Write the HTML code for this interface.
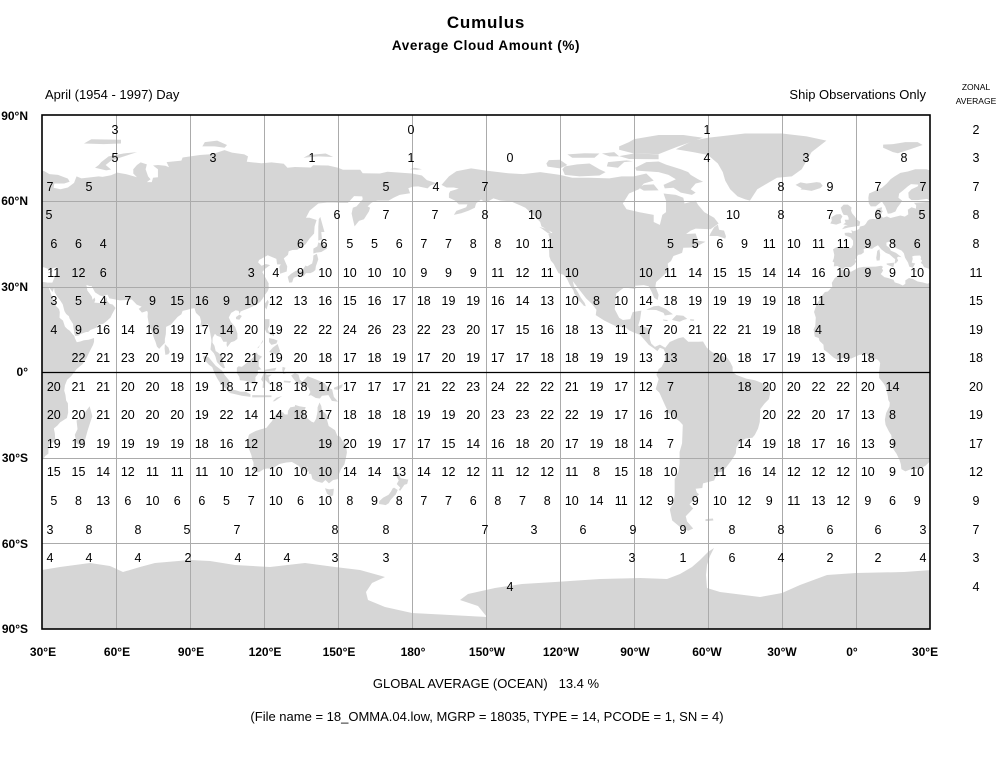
<!DOCTYPE html>
<html><head><meta charset="utf-8"><style>
html,body{margin:0;padding:0;background:#fff;}
svg{display:block;font-family:"Liberation Sans",Arial,sans-serif;}
.n{font-size:12.5px;fill:#000;text-anchor:middle;}
.b{font-weight:bold;font-size:12px;fill:#000;}
.r{font-size:13px;fill:#000;}
</style></head><body>
<svg width="998" height="760" viewBox="0 0 998 760" xmlns="http://www.w3.org/2000/svg">
<rect width="998" height="760" fill="#fff"/>
<defs>
<clipPath id="fr"><rect x="42" y="115" width="888" height="514"/></clipPath>
<g id="land" transform="matrix(2.467 0 0 -2.856 -32.01 372)" fill="#d6d6d6">
<polygon points="32.3,31.3 34.2,31.3 34.9,32.8 35.5,34 35.9,35.4 36.2,36.6 35.5,36.6 34,36.2 32.5,36.1 30.6,36.7 29.7,36.1 27.6,36.7 27,37.7 26.3,38.2 26.8,39 26.2,39.5 26.4,40.2 26,40.8 23.7,40.7 22.8,40.5 23,39.6 22.6,38.3 24,38 23,36.5 21.6,36.9 21.1,38.3 19.9,40 19.4,41.6 18.5,42.5 16,43.5 14.3,45.1 13.6,45.7 12.3,45.3 12.4,44.2 13.6,43.5 14.1,42.5 16.2,41.7 18.5,40.2 17.2,40.4 16.6,40 17.1,39 16.5,38.4 16,38 15.7,38.2 15.9,39.5 14.9,40.2 13.6,41.2 12.1,41.7 10.2,43 8.9,44.4 7.4,43.7 6.5,43.1 4.6,43.4 3.1,43.1 3.2,41.9 2.1,41.2 0.8,41 -0.3,39.3 0.1,38.7 -0.7,37.6 -2.1,36.7 -4.4,36.7 -5.4,35.9 -6.2,36.4 -7.5,37.1 -9,37 -8.8,38.3 -9.5,38.7 -9,39.8 -8.8,41 -9,41.8 -9.3,43 -8,43.7 -6,43.6 -4.3,43.4 -1.9,43.4 -1.2,44.5 -1.2,46 -2.2,47.1 -4.5,47.9 -4.6,48.7 -3,48.8 -1.6,48.6 -1.9,49.7 -1.1,49.3 0.2,49.6 1.3,50.1 1.6,50.9 2.5,51.1 3.3,51.3 4,51.9 4.7,52.9 5.4,53.4 7,53.6 8.1,53.5 8.8,54 8.5,55 8.1,55.6 8.1,56.5 8.5,57.1 10,57.6 10.6,57.7 10.3,56.6 10.9,56.4 9.9,54.8 11,54 12.5,54.5 14,53.9 18,54.8 19.8,54.4 21.2,55.2 21,56.8 22.5,57.7 24.3,57.2 24.4,58.4 23.5,59.2 28,59.5 30,59.9 28.8,60.6 25,60.2 22.5,60.2 21.4,61 21.2,62.8 22.5,64 25,65 25.3,65.6 22.3,65.8 21,65 19,63.5 17.5,62.5 17.2,61 18.7,60 18,59 16.7,57.5 16,56.2 14.3,55.6 12.9,55.4 12.6,56.2 11.8,58 11,59 10.5,59.8 8,58 6,58 5.2,59 5,61 5.3,62.5 8,63.5 10.5,64.5 12.5,66 14,67.5 15.5,68.4 18,69.7 21,70.2 24,71 28.5,71 31,70.3 33,69.3 36.5,69 40.5,67.7 41.2,66.6 39,66 35,66 34.7,64.5 37.5,64 40.5,64.6 43,66.2 44,68.5 46,67.8 53,68.5 54.5,68.3 58,68.9 60.5,69.8 64,69.3 68.5,68.2 67,69.5 67,71 68.5,72.5 70,73.4 72.5,72.7 72,71 73,68.5 74,67.5 72.5,66.5 74.5,66.5 75,68 77,68.2 77,71 75,72.3 77,72.5 80,72.2 81.5,71.7 80.5,73.5 86.5,74 87,75.1 94,76 99,76.3 104,77.7 107,76.8 112,76.2 113.5,75.5 113,73.6 119,73.1 123,73.4 128,72.9 129.5,71.5 132.5,71.8 139,71.6 139.9,72.4 146,72.3 150,71.5 152,70.8 159,70.8 160,69.6 167,69.5 170,70.1 175,69.8 180,69.5 184,68.8 186,67.2 190,66.1 187.5,65.3 186.3,64.3 182.5,65 180.5,64.9 178.5,64.4 179.2,62.6 175,62 172.5,61 170.5,60 166,60 164.7,59.8 163.5,59.2 162,58 163,57.5 162.5,56.2 160.5,53.5 158.5,52.9 156.7,51 156,53.5 155.5,55.5 156,57.5 157.5,58 160,60.5 159.8,61.5 156.5,61.6 154,59.2 151,59.2 148.5,59.3 145.5,59.3 142,59 138.5,56.5 137,54 138.5,54 141.3,53.2 140.5,51 140.3,48.5 138.5,46.8 136.8,44.7 133.5,42.8 131.5,42.7 130,42.3 129.7,41 128,39.8 129.4,37 129.2,35.2 126.5,34.4 126.2,36.8 126.8,37.7 125.3,37.7 125,39.6 121.5,40.9 118,39.2 117.6,38.4 119,37.2 120.7,37.8 122.5,37.4 120.5,36.2 119.3,35 120.8,32.7 121.9,31 121.8,30.2 122,29.5 121.5,28.3 120.5,27.2 119.6,25.9 118.5,24.6 117,23.6 115,22.8 113.5,22.2 111.7,21.6 110.5,21.2 110.1,20.3 109.7,21.4 108.5,21.6 106.7,20.7 105.7,19.1 106.6,17.5 108.3,15.8 109.2,13.5 109.2,11.6 108,10.8 106.6,10.4 105.1,8.7 104.8,9.5 104.9,10.6 103.5,10.6 102.5,12.2 100.9,12.7 100.1,13.4 99.2,12 99.1,10.3 99.9,9.2 100.4,7.3 101.2,6.9 102.2,6.2 103.4,4.9 103.4,3.4 104.2,1.4 103.5,1.3 102.3,2.2 100.9,3.5 100.3,5.4 99.7,6.5 98.3,7.9 98.5,9.5 98.7,11 98.4,12.6 97.7,15.9 97.2,16.9 95.4,15.7 94.2,16 94.5,17.7 94,19.4 92.4,20.7 91.8,22.3 90.5,22.2 89,21.8 87,21.4 86.5,20.2 85,19.3 83.9,18.2 82.2,16.6 80.3,15.8 80.2,13.3 79.8,11.5 79.8,10.2 78.3,8.9 77.5,8.1 76.6,8.9 76,10.6 75.4,11.8 74.6,14 73.4,16.3 72.8,19.3 72.9,20.8 72.6,21.4 70.5,20.8 69.2,22.1 70.4,22.9 68.4,23.6 67.2,24.7 66.4,25.4 64.5,25.2 61.5,25.1 58.5,25.6 57.3,25.8 56.5,27.1 54.7,26.5 53.5,26.8 51.5,27.9 50.1,30.1 49.2,30.1 48,30.5 48.4,28.5 49.3,27.5 50.2,26.4 50.5,25.3 51.3,26.1 51.6,25.2 51.2,24.3 52.6,24.2 54.2,24.1 55.5,25.4 56.3,26.2 56.4,24.9 57.4,23.9 58.7,23.6 59.8,22.4 58.5,20.4 57.8,19.1 56.3,17.9 55.3,17.2 54.8,16.9 52.4,16.4 52.2,15.6 49.6,14.7 48.7,14 47.9,14 45.6,13.3 45,12.8 43.5,12.6 43.2,13.2 42.7,15.7 42.6,16.8 41.2,18.7 40.9,19.5 39.8,20.3 39.1,21.3 38.4,23.7 37.5,24.9 36.9,25.6 36,26.6 35.1,28 34.9,29.5 34.3,28 32.6,29.9"/>
<polygon points="-5.6,35.8 -2,35.1 1,36.5 3,36.8 8,36.9 10.2,37.2 11,36.8 10.5,36.3 11,35.6 10.5,34.8 10,34.3 11.5,33.2 13,32.9 15.2,32.3 15.7,31.4 17.5,30.9 19,30.3 20,30.9 20,32.1 21.5,32.9 23,32.6 25,31.7 27,31.4 29,30.9 30.5,31.5 32.3,31.3 32.6,29.9 33.8,27 35,24.5 35.6,23.2 36.9,22 37.2,21 37.1,19 38.5,18 39.3,15.9 40.3,15 41.2,14.5 42.6,13 43.1,12.7 43.3,11.9 44.1,10.4 45.5,10.7 47,11.1 48.9,11.3 51.1,11.9 51.1,10.6 50.7,9.5 49.5,7.5 48,4.8 46.5,2.8 44,1 41.8,-1.5 40.2,-2.7 39.3,-4.7 39,-6.5 39.5,-8 39.8,-10 40.5,-11 40.6,-14.2 40.1,-16.1 37.4,-17.6 36.3,-18.7 34.8,-19.8 35.2,-21.5 35.4,-24.1 33,-25.4 32.6,-26.8 32.6,-28.6 31.3,-29.4 30,-31.3 28.2,-32.8 26.4,-33.6 25,-33.9 22.6,-33.9 20,-34.8 18.4,-34 18.2,-32.4 17.6,-30.7 16.4,-28.6 15.2,-27.1 14.6,-25 14.3,-22.1 13.4,-20.9 12,-18.5 11.7,-16.7 11.9,-15.8 12.2,-14.4 13.6,-12 13.7,-10.7 13.1,-9.8 12.9,-8.4 12.3,-6.1 11.9,-5 11.1,-3.9 9.4,-2.1 9.3,-0.5 9.5,1 9.8,3.1 9.4,3.8 8.5,4.5 7,4.4 5.9,4.3 4.3,6.3 2.7,6.3 1.1,5.9 -2,4.7 -4,5.2 -7.5,4.3 -9,5 -11.4,6.8 -13,7.8 -13.2,9.6 -14.8,10.9 -15.1,11.9 -16.7,12.4 -17.2,14.9 -16.5,16.1 -16.3,19.1 -17,21 -16,23.7 -14.6,25.6 -13.9,26.6 -12.6,28 -11.4,28.2 -9.6,29.9 -9.8,31.2 -8.7,32.8 -6.9,34.1 -6,35.8"/>
<polygon points="-168,65.5 -165,68.5 -162,70.3 -156,71.3 -150,70.5 -141,69.6 -135,69.3 -128,70 -120,69 -115,68 -108,68 -100,67.8 -95,68.5 -90,68.5 -85,69.5 -82,67 -86,66 -88,64 -92,62.5 -94.5,59 -93,57 -88,56 -82,55 -82,52.5 -79.5,51.5 -78.5,55 -77,56 -77,60 -78,62.5 -73,62 -70,61 -69.5,59 -65,60 -64,58.5 -61.5,56 -57.5,54 -55.7,52 -59,50 -65,50.2 -67,49.5 -71,47 -69,48.3 -65,48.5 -64,46 -61,45.6 -65.5,43.6 -70,43.5 -70.5,41.7 -74,40.6 -75,38.8 -76.3,38 -76,35.5 -78,33.8 -81,31.5 -81.3,30 -80,27 -80.4,25.2 -81.8,26 -82.8,28 -84,30 -86,30.4 -89.5,30.2 -89.4,29 -91,29.3 -94,29.6 -97.2,27.5 -97.5,24.5 -97.8,22 -96,19 -94.5,18.2 -91.5,18.5 -90.5,21 -87,21.5 -87.5,18.5 -88.3,16.2 -86,15.9 -83.5,15 -83.6,11.5 -83,10 -81.5,8.8 -79.5,9.6 -77.3,8.5 -75.5,10.5 -72,11.8 -70,12.2 -68,10.6 -64,10.6 -62,10.7 -60.5,8.5 -58,6.8 -55,5.9 -52,4.8 -51,3.5 -50,1.8 -50,0 -48.5,-1 -44.5,-2.3 -41,-2.9 -38.5,-3.7 -35.3,-5.4 -34.8,-7.5 -35.3,-9.5 -37,-11 -38.8,-13 -39,-17.5 -39.7,-19.8 -41,-22 -42,-23 -44.7,-23.3 -47,-24.5 -48.5,-26.5 -48.7,-28.5 -50.5,-31 -52.5,-33.2 -54,-34.8 -57.5,-35.5 -56.7,-36.4 -57.5,-38 -62,-39 -62.3,-40.6 -65,-40.9 -64.5,-42.2 -63.6,-42.8 -65.3,-44.4 -67.5,-46.3 -66,-47.8 -69,-50.5 -68.5,-52.3 -66,-54.8 -68,-55.6 -71,-54.5 -74.5,-52 -75.5,-48 -74,-46 -73.5,-43 -73.5,-41 -73.5,-37.5 -72,-35 -71.5,-32 -71.5,-28 -70.5,-25 -70.2,-18.5 -71.5,-17.3 -76,-14.3 -78,-10.5 -79.7,-7.2 -81.2,-6 -80.5,-4 -80,-2.5 -80.9,-1 -80,1 -78.8,1.8 -77.5,4 -77.3,6.7 -78,8 -79.5,8.5 -80.5,7.3 -82,8.3 -84,9.5 -85.7,11.2 -87.5,13 -90,13.8 -92,14.6 -94,16 -96.5,15.7 -99,16.7 -102,18 -105.5,19.9 -105.2,21.8 -107,23.8 -109.4,25.8 -112.2,28.9 -114.8,31.8 -114.3,30 -112.8,28 -111.5,26 -110,24.2 -109.5,23 -110.3,23.2 -112,24.8 -114.2,27.5 -114.5,28.5 -116,30.5 -116.8,32 -117.2,32.7 -118.5,34 -120.6,34.6 -122,36.9 -122.5,37.8 -123.7,39 -124.3,40.5 -124.4,42.8 -124,46.3 -124.7,48.3 -123,48.8 -124.5,49.5 -127.5,51 -128,52.5 -130,54.3 -131.5,55.5 -134,57.5 -136,58.3 -140,59.8 -144,60 -147,60.8 -150,59.3 -152,60.4 -154,59 -154.5,57.5 -157,56.5 -160,55.6 -163,55 -162,56.4 -158,57.7 -157.5,58.7 -161,58.7 -162.5,60 -165,61 -165,62.5 -164.5,63.3 -161,64.2 -163,64.6 -166,64.6"/>
<polygon points="-73,78 -66,81 -60,82 -45,83.5 -30,83.5 -20,82.5 -12,81 -18,77 -20,74 -22,71 -26,68.5 -32,68 -37,65.5 -40,64 -43,60 -45,60.5 -48,61.5 -51,64 -53,67 -54,70 -56,73 -60,76 -66,77"/>
<polygon points="-62,66.6 -65,66 -67,64 -65,62.8 -66.5,62 -71,62.8 -74,64.5 -77.5,64.3 -78,65.5 -73,67.5 -76,69 -80,70 -89,70.5 -89.5,71.5 -85,73.5 -80,73.7 -77,72.6 -71,71 -68,70 -67,69 -64,67.5"/>
<polygon points="-90,76.5 -80,76.3 -75,78 -72,79 -67,80.5 -62,82 -70,83 -80,83 -90,81.5 -92,80.5 -96,79 -96,77.8"/>
<polygon points="-80,74.5 -92,74.6 -96,75.6 -90,76.5 -80,76.2"/>
<polygon points="-118,69 -112,68.5 -104,68.8 -101.5,70 -104,71 -108,73 -113,72.7 -118,72 -119,71"/>
<polygon points="-125,71.9 -120,71.3 -117,72.5 -120,74.3 -124.5,74.2 -125.5,73"/>
<polygon points="-101,72 -96.5,71.5 -94,73.5 -90.5,73.8 -93,74.1 -97,73.8 -100.5,73.5"/>
<polygon points="-115,75 -106,75 -104,76.5 -110,76.6 -117,76.2"/>
<polygon points="-100,75.5 -96,75.5 -98,77 -103,76.5"/>
<polygon points="-86,63.5 -80,63.6 -82,65.7 -86,65.5 -88,64.5"/>
<polygon points="-59.4,47.6 -56,47.6 -53,46.7 -52.7,47.5 -53.5,49.5 -55.5,49.8 -56,51.6 -57.5,50.7 -59,48.5"/>
<polygon points="-128.4,50.8 -125,50 -123.4,48.4 -124.8,48.6 -127,50"/>
<polygon points="-85,21.8 -82,23 -80,23.2 -77,22 -74.2,20.2 -77.5,19.8 -78,20.7 -81,21.7 -84,21.8"/>
<polygon points="-74.5,18.4 -72.8,19.9 -70,19.7 -68.4,18.6 -70,18.2 -71.5,17.6 -74.5,18.2"/>
<polygon points="-78.3,18.4 -76.3,18.2 -76.5,17.8 -78,18"/>
<polygon points="-67.2,18.5 -65.6,18.4 -65.7,17.9 -67.2,18"/>
<polygon points="-61,-51.5 -58,-51.3 -57.8,-52 -61,-52.2"/>
<polygon points="-5.7,50 -3,50.6 1.4,51.2 1.7,52.6 0.3,53.4 -0.5,54.5 -1.6,55.6 -2,56.5 -1.8,57.6 -3.3,58.6 -5,58.6 -6.2,57.5 -5.6,56 -5,55 -3.5,54.9 -3,54 -3,53.3 -4.6,53.3 -4.2,52.3 -5.2,51.7 -3.3,51.4 -4.5,51.1"/>
<polygon points="-6,52.2 -6.2,53.4 -5.5,54.5 -6.3,55.3 -8,55.2 -10,54.2 -9.8,53 -10.4,52 -8,51.6"/>
<polygon points="-22.5,63.9 -21,63.8 -18,63.4 -14.5,64.4 -13.5,65.2 -14.5,66.3 -16,66.5 -18,66.2 -20,66 -22.5,66.4 -24.5,65.5 -22,64.3"/>
<polygon points="11,78.5 15,77 17,76.6 22,78 27,79.5 25,80.5 20,80.5 15,79.8 11,79.6"/>
<polygon points="47,80 55,79.8 62,80 62,81.3 50,81.5"/>
<polygon points="51.5,71.5 56,70.6 58,70.9 55.8,72.5 58,74 64,75.7 68.5,77 63,76.5 57,75.5 54,73.5 53,72.5"/>
<polygon points="95,79 100,79 104,78.5 105,79.5 101,81 96,80.5"/>
<polygon points="136,75 142,75.5 148,75.3 145,76.5 138,76"/>
<polygon points="179,71 181,71.5 184,71 182,70.8"/>
<polygon points="12.4,38 15.6,38.3 15.1,36.7 12.5,37.6"/>
<polygon points="8.4,39 9.6,39.1 9.8,41 9.5,43 8.6,42.4 8.4,41 8.2,40"/>
<polygon points="23.5,35.3 26.3,35.2 24,35.6"/>
<polygon points="32.3,34.7 34.6,35.7 34,35 33,34.6"/>
<polygon points="129.6,33.3 130.2,31.3 131.4,31.4 132,33 134.7,33.8 136,33.5 137,34.6 138.8,34.6 140,35.1 140.8,35.7 141,37 142,39.5 141.4,41.4 140,40.8 139.9,39.5 139.5,38 137.5,37 136.8,37.3 135.5,35.5 133,35.5 131,34.4"/>
<polygon points="140,41.5 141.2,41.8 143.2,42 145.5,43.2 145.3,44.2 142,45.4 141.6,44 140,43.2"/>
<polygon points="142,46 143.5,46.5 143.2,49 144.5,49 142.8,54.3 142.2,53.5 142,51"/>
<polygon points="120.1,23 121,21.9 121.9,24.5 121.5,25.3 120.2,23.8"/>
<polygon points="108.6,19.2 110,20.1 111,19.6 110,18.3 108.7,18.5"/>
<polygon points="120,18.5 122.2,18.5 122.2,16.2 121.5,15 122,14 124,13.8 124,12.5 123,13 121,13.8 120.6,14.5 120,16"/>
<polygon points="122,7 123.5,8.5 125.5,9.8 126.5,7.3 125.5,5.6 124,6.5"/>
<polygon points="122,11.9 124,11.5 125.5,11 125,10 123,9.5 122,10.5"/>
<polygon points="117.2,8.3 119.5,10.5 119.6,11.3 117.8,8.5"/>
<polygon points="109,1.5 109.7,2 111,1.8 113,3.2 115.5,5 116.8,6.9 117.7,6 119.2,5.4 118,4.3 117.8,2 119,0.9 117.5,0.7 117.5,-0.8 116.5,-1.8 116.5,-3.5 116,-4 114.7,-4 113,-3.2 111.8,-3 110.2,-2.9 110,-1.7 109,-0.4"/>
<polygon points="95.3,5.6 97.5,5.2 100.4,2.2 103,0.5 104,-1 106,-3.1 105.8,-5.8 104.6,-5.9 102.3,-4 101,-2.2 100.1,-0.7 99,1.7 97.7,2.5 95.4,4.7"/>
<polygon points="105.3,-6.8 106,-5.9 108.5,-6.4 110.5,-6.9 112.6,-6.9 114.5,-7.8 114.5,-8.7 111,-8.3 106.4,-7.4"/>
<polygon points="115.2,-8.1 123,-8.2 123,-8.8 115.2,-8.9"/>
<polygon points="123.5,-10.3 125,-9 127.3,-8.4 126,-9.2 124.4,-10.2"/>
<polygon points="119.4,-5.5 120.4,-5.6 120.5,-2.8 122.7,-4.7 121.8,-1.8 123.2,-0.9 121,-0.9 120.3,0.8 125,1.5 124.5,0.5 120.8,0.3 119.8,-0.6 118.8,-2.6 119.6,-3.5"/>
<polygon points="128,-3 131,-3.2 130.5,-3.8 128,-3.6"/>
<polygon points="127.5,1.8 128.7,1.5 128,0 128.9,-0.5 127.8,-0.7 127.4,0.8"/>
<polygon points="131,-1.2 132.5,-0.4 134,-0.9 134.5,-2.7 135.5,-3.4 137.7,-1.5 141,-2.6 144.5,-3.9 146,-5.5 147.6,-6.1 148.3,-8.7 150,-10.4 147.5,-10.1 146.1,-8.1 143.5,-8.3 142.6,-9.3 141,-9.1 139,-8.1 138,-8.4 138.8,-7 137.9,-5.4 135.5,-4.4 133.5,-4 132.3,-2.8 131.3,-1.6"/>
<polygon points="148.3,-5.5 152,-4.2 151.5,-5.4 150,-6.2 148.4,-6.1"/>
<polygon points="114.1,-21.8 116.7,-20.6 119,-20 121,-19.5 122.2,-18.2 123.3,-17.1 123.7,-16.2 125,-14.7 126.1,-14.1 127.7,-14.1 128.4,-14.9 129.6,-14.9 129.7,-13.6 130.6,-12.4 132.5,-12.1 132.6,-11.5 134.3,-12 135.8,-12.2 136.9,-12.3 136.5,-13.3 135.9,-14.7 137.1,-15.9 139.3,-17.4 140.2,-17.7 141.1,-16.4 141.7,-13.8 141.7,-12.4 142.5,-10.7 143.2,-11.9 143.5,-13.6 144.5,-14.2 145.4,-15 145.4,-16.3 146.2,-18.9 148.8,-20.4 149.7,-22.3 150.8,-22.6 151.8,-24.1 153.2,-25.3 153.6,-28.2 153.1,-30.4 152.6,-32.3 151.1,-34.2 150.1,-36.4 149.9,-37.5 148,-37.8 146.3,-39 144.9,-37.8 143.6,-38.8 141.6,-38.4 140.6,-38 139.6,-37.4 139.1,-35.7 138.1,-35.6 138.4,-34.4 137.7,-35.1 137,-34.3 137.9,-33 137.2,-33.6 135.9,-34.9 135.2,-34.5 134.2,-32.9 131.3,-31.5 129,-31.7 126.2,-32.2 124,-33.5 123.7,-33.9 121.3,-33.8 119.9,-34 118,-35.1 116.6,-35 115,-34.2 115.7,-33.3 115.7,-31.6 115.2,-30.6 114.9,-29.2 113.7,-26.5 113.6,-24.7 113.4,-23.8 113.8,-22.2"/>
<polygon points="144.7,-40.7 146.4,-41.1 148.3,-40.9 148,-43.2 146.9,-43.6 145.5,-42.6"/>
<polygon points="172.6,-34.5 174.3,-35.3 175.4,-37.2 178.5,-37.7 178,-39.2 176.9,-39.5 175.2,-41.6 174.6,-41.3 175.2,-40.5 173.8,-39.2 174.6,-38 173,-35.2"/>
<polygon points="172.7,-40.5 174.2,-41.3 173.4,-42.9 172.7,-43.4 171.2,-44.9 170.6,-45.9 169.3,-46.6 166.6,-46.2 166.7,-45.2 168.3,-44 170.5,-43 171.5,-41.8 172.1,-40.8"/>
<polygon points="79.8,9.8 81.3,8.5 81.8,7 81.2,6.2 80,6 79.7,8.2"/>
<polygon points="49.3,-12 50.4,-15.5 49.8,-17 48.5,-20.5 47.1,-24.9 45.4,-25.6 44,-24.9 43.3,-22 44.4,-20 44,-17 46.3,-15.8 47.9,-13.6"/>
</g>
</defs>

<g clip-path="url(#fr)">
<use href="#land"/>
<use href="#land" transform="translate(888,0)"/>
<polygon fill="#d6d6d6" points="42,570 60,567 90,563 110,566 123,572 140,567 155,563 190,560 210,561 235,565 270,567 305,563 335,567 360,570 385,577 372,583 366,592 368,600 385,607 412,613 450,615 487,617 478,606 460,600 468,594 495,588 522,584 555,582 600,579 640,578 667,579 680,574 692,567 700,560 708,552 714,548 710,556 707,565 706,575 707,588 720,592 760,597 782,593 800,585 827,575 856,573 904,572 932,570 932,631 40,631"/>
</g>

<g stroke="#ababab" stroke-width="1">
<line x1="116.5" y1="115" x2="116.5" y2="629"/>
<line x1="190.5" y1="115" x2="190.5" y2="629"/>
<line x1="264.5" y1="115" x2="264.5" y2="629"/>
<line x1="338.5" y1="115" x2="338.5" y2="629"/>
<line x1="412.5" y1="115" x2="412.5" y2="629"/>
<line x1="486.5" y1="115" x2="486.5" y2="629"/>
<line x1="560.5" y1="115" x2="560.5" y2="629"/>
<line x1="634.5" y1="115" x2="634.5" y2="629"/>
<line x1="708.5" y1="115" x2="708.5" y2="629"/>
<line x1="782.5" y1="115" x2="782.5" y2="629"/>
<line x1="856.5" y1="115" x2="856.5" y2="629"/>
<line x1="42" y1="201.5" x2="930" y2="201.5"/>
<line x1="42" y1="287.5" x2="930" y2="287.5"/>
<line x1="42" y1="458.5" x2="930" y2="458.5"/>
<line x1="42" y1="543.5" x2="930" y2="543.5"/>
</g>
<line x1="42" y1="372.5" x2="930" y2="372.5" stroke="#000" stroke-width="1.3"/>
<rect x="42" y="115" width="888" height="514" fill="none" stroke="#000" stroke-width="1.6"/>

<text x="486" y="28" text-anchor="middle" style="font-weight:bold;font-size:17px;letter-spacing:0.8px">Cumulus</text>
<text x="486" y="50" text-anchor="middle" style="font-weight:bold;font-size:13.5px;letter-spacing:0.6px">Average Cloud Amount (%)</text>
<text x="45" y="99" class="r">April (1954 - 1997) Day</text>
<text x="926" y="99" class="r" text-anchor="end">Ship Observations Only</text>
<text x="976" y="90" text-anchor="middle" style="font-size:8.5px">ZONAL</text>
<text x="976" y="104" text-anchor="middle" style="font-size:8.5px">AVERAGE</text>

<text x="28" y="120" class="b" text-anchor="end">90°N</text>
<text x="28" y="205" class="b" text-anchor="end">60°N</text>
<text x="28" y="291" class="b" text-anchor="end">30°N</text>
<text x="28" y="376" class="b" text-anchor="end">0°</text>
<text x="28" y="462" class="b" text-anchor="end">30°S</text>
<text x="28" y="548" class="b" text-anchor="end">60°S</text>
<text x="28" y="633" class="b" text-anchor="end">90°S</text>
<text y="656" class="b" text-anchor="middle"><tspan x="43">30°E</tspan><tspan x="117">60°E</tspan><tspan x="191">90°E</tspan><tspan x="265">120°E</tspan><tspan x="339">150°E</tspan><tspan x="413">180°</tspan><tspan x="487">150°W</tspan><tspan x="561">120°W</tspan><tspan x="635">90°W</tspan><tspan x="707">60°W</tspan><tspan x="782">30°W</tspan><tspan x="852">0°</tspan><tspan x="925">30°E</tspan></text>

<text x="486" y="688" class="r" text-anchor="middle" style="white-space:pre">GLOBAL AVERAGE (OCEAN)   13.4 %</text>
<text x="487" y="721" class="r" text-anchor="middle">(File name = 18_OMMA.04.low, MGRP = 18035, TYPE = 14, PCODE = 1, SN = 4)</text>

<text class="n" y="134"><tspan x="115">3</tspan><tspan x="411">0</tspan><tspan x="707">1</tspan><tspan x="976">2</tspan></text>
<text class="n" y="162"><tspan x="115">5</tspan><tspan x="213">3</tspan><tspan x="312">1</tspan><tspan x="411">1</tspan><tspan x="510">0</tspan><tspan x="707">4</tspan><tspan x="806">3</tspan><tspan x="904">8</tspan><tspan x="976">3</tspan></text>
<text class="n" y="191"><tspan x="50">7</tspan><tspan x="89">5</tspan><tspan x="386">5</tspan><tspan x="436">4</tspan><tspan x="485">7</tspan><tspan x="781">8</tspan><tspan x="830">9</tspan><tspan x="878">7</tspan><tspan x="923">7</tspan><tspan x="976">7</tspan></text>
<text class="n" y="219"><tspan x="49">5</tspan><tspan x="337">6</tspan><tspan x="386">7</tspan><tspan x="435">7</tspan><tspan x="485">8</tspan><tspan x="535">10</tspan><tspan x="733">10</tspan><tspan x="781">8</tspan><tspan x="830">7</tspan><tspan x="878">6</tspan><tspan x="922">5</tspan><tspan x="976">8</tspan></text>
<text class="n" y="248"><tspan x="53.8">6</tspan><tspan x="78.5">6</tspan><tspan x="103.2">4</tspan><tspan x="300.5">6</tspan><tspan x="324">6</tspan><tspan x="349.8">5</tspan><tspan x="374.5">5</tspan><tspan x="399.2">6</tspan><tspan x="423.8">7</tspan><tspan x="448.5">7</tspan><tspan x="473.2">8</tspan><tspan x="497.8">8</tspan><tspan x="522.5">10</tspan><tspan x="547.2">11</tspan><tspan x="670.5">5</tspan><tspan x="695.2">5</tspan><tspan x="719.8">6</tspan><tspan x="744.5">9</tspan><tspan x="769.2">11</tspan><tspan x="793.8">10</tspan><tspan x="818.5">11</tspan><tspan x="843.2">11</tspan><tspan x="867.8">9</tspan><tspan x="892.5">8</tspan><tspan x="917.2">6</tspan><tspan x="976">8</tspan></text>
<text class="n" y="277"><tspan x="53.8">11</tspan><tspan x="78.5">12</tspan><tspan x="103.2">6</tspan><tspan x="251.2">3</tspan><tspan x="275.8">4</tspan><tspan x="300.5">9</tspan><tspan x="325.2">10</tspan><tspan x="349.8">10</tspan><tspan x="374.5">10</tspan><tspan x="399.2">10</tspan><tspan x="423.8">9</tspan><tspan x="448.5">9</tspan><tspan x="473.2">9</tspan><tspan x="497.8">11</tspan><tspan x="522.5">12</tspan><tspan x="547.2">11</tspan><tspan x="571.8">10</tspan><tspan x="645.8">10</tspan><tspan x="670.5">11</tspan><tspan x="695.2">14</tspan><tspan x="719.8">15</tspan><tspan x="744.5">15</tspan><tspan x="769.2">14</tspan><tspan x="793.8">14</tspan><tspan x="818.5">16</tspan><tspan x="843.2">10</tspan><tspan x="867.8">9</tspan><tspan x="892.5">9</tspan><tspan x="917.2">10</tspan><tspan x="976">11</tspan></text>
<text class="n" y="305"><tspan x="53.8">3</tspan><tspan x="78.5">5</tspan><tspan x="103.2">4</tspan><tspan x="127.8">7</tspan><tspan x="152.5">9</tspan><tspan x="177.2">15</tspan><tspan x="201.8">16</tspan><tspan x="226.5">9</tspan><tspan x="251.2">10</tspan><tspan x="275.8">12</tspan><tspan x="300.5">13</tspan><tspan x="325.2">16</tspan><tspan x="349.8">15</tspan><tspan x="374.5">16</tspan><tspan x="399.2">17</tspan><tspan x="423.8">18</tspan><tspan x="448.5">19</tspan><tspan x="473.2">19</tspan><tspan x="497.8">16</tspan><tspan x="522.5">14</tspan><tspan x="547.2">13</tspan><tspan x="571.8">10</tspan><tspan x="596.5">8</tspan><tspan x="621.2">10</tspan><tspan x="645.8">14</tspan><tspan x="670.5">18</tspan><tspan x="695.2">19</tspan><tspan x="719.8">19</tspan><tspan x="744.5">19</tspan><tspan x="769.2">19</tspan><tspan x="793.8">18</tspan><tspan x="818.5">11</tspan><tspan x="976">15</tspan></text>
<text class="n" y="334"><tspan x="53.8">4</tspan><tspan x="78.5">9</tspan><tspan x="103.2">16</tspan><tspan x="127.8">14</tspan><tspan x="152.5">16</tspan><tspan x="177.2">19</tspan><tspan x="201.8">17</tspan><tspan x="226.5">14</tspan><tspan x="251.2">20</tspan><tspan x="275.8">19</tspan><tspan x="300.5">22</tspan><tspan x="325.2">22</tspan><tspan x="349.8">24</tspan><tspan x="374.5">26</tspan><tspan x="399.2">23</tspan><tspan x="423.8">22</tspan><tspan x="448.5">23</tspan><tspan x="473.2">20</tspan><tspan x="497.8">17</tspan><tspan x="522.5">15</tspan><tspan x="547.2">16</tspan><tspan x="571.8">18</tspan><tspan x="596.5">13</tspan><tspan x="621.2">11</tspan><tspan x="645.8">17</tspan><tspan x="670.5">20</tspan><tspan x="695.2">21</tspan><tspan x="719.8">22</tspan><tspan x="744.5">21</tspan><tspan x="769.2">19</tspan><tspan x="793.8">18</tspan><tspan x="818.5">4</tspan><tspan x="976">19</tspan></text>
<text class="n" y="362"><tspan x="78.5">22</tspan><tspan x="103.2">21</tspan><tspan x="127.8">23</tspan><tspan x="152.5">20</tspan><tspan x="177.2">19</tspan><tspan x="201.8">17</tspan><tspan x="226.5">22</tspan><tspan x="251.2">21</tspan><tspan x="275.8">19</tspan><tspan x="300.5">20</tspan><tspan x="325.2">18</tspan><tspan x="349.8">17</tspan><tspan x="374.5">18</tspan><tspan x="399.2">19</tspan><tspan x="423.8">17</tspan><tspan x="448.5">20</tspan><tspan x="473.2">19</tspan><tspan x="497.8">17</tspan><tspan x="522.5">17</tspan><tspan x="547.2">18</tspan><tspan x="571.8">18</tspan><tspan x="596.5">19</tspan><tspan x="621.2">19</tspan><tspan x="645.8">13</tspan><tspan x="670.5">13</tspan><tspan x="719.8">20</tspan><tspan x="744.5">18</tspan><tspan x="769.2">17</tspan><tspan x="793.8">19</tspan><tspan x="818.5">13</tspan><tspan x="843.2">19</tspan><tspan x="867.8">18</tspan><tspan x="976">18</tspan></text>
<text class="n" y="391"><tspan x="53.8">20</tspan><tspan x="78.5">21</tspan><tspan x="103.2">21</tspan><tspan x="127.8">20</tspan><tspan x="152.5">20</tspan><tspan x="177.2">18</tspan><tspan x="201.8">19</tspan><tspan x="226.5">18</tspan><tspan x="251.2">17</tspan><tspan x="275.8">18</tspan><tspan x="300.5">18</tspan><tspan x="325.2">17</tspan><tspan x="349.8">17</tspan><tspan x="374.5">17</tspan><tspan x="399.2">17</tspan><tspan x="423.8">21</tspan><tspan x="448.5">22</tspan><tspan x="473.2">23</tspan><tspan x="497.8">24</tspan><tspan x="522.5">22</tspan><tspan x="547.2">22</tspan><tspan x="571.8">21</tspan><tspan x="596.5">19</tspan><tspan x="621.2">17</tspan><tspan x="645.8">12</tspan><tspan x="670.5">7</tspan><tspan x="744.5">18</tspan><tspan x="769.2">20</tspan><tspan x="793.8">20</tspan><tspan x="818.5">22</tspan><tspan x="843.2">22</tspan><tspan x="867.8">20</tspan><tspan x="892.5">14</tspan><tspan x="976">20</tspan></text>
<text class="n" y="419"><tspan x="53.8">20</tspan><tspan x="78.5">20</tspan><tspan x="103.2">21</tspan><tspan x="127.8">20</tspan><tspan x="152.5">20</tspan><tspan x="177.2">20</tspan><tspan x="201.8">19</tspan><tspan x="226.5">22</tspan><tspan x="251.2">14</tspan><tspan x="275.8">14</tspan><tspan x="300.5">18</tspan><tspan x="325.2">17</tspan><tspan x="349.8">18</tspan><tspan x="374.5">18</tspan><tspan x="399.2">18</tspan><tspan x="423.8">19</tspan><tspan x="448.5">19</tspan><tspan x="473.2">20</tspan><tspan x="497.8">23</tspan><tspan x="522.5">23</tspan><tspan x="547.2">22</tspan><tspan x="571.8">22</tspan><tspan x="596.5">19</tspan><tspan x="621.2">17</tspan><tspan x="645.8">16</tspan><tspan x="670.5">10</tspan><tspan x="769.2">20</tspan><tspan x="793.8">22</tspan><tspan x="818.5">20</tspan><tspan x="843.2">17</tspan><tspan x="867.8">13</tspan><tspan x="892.5">8</tspan><tspan x="976">19</tspan></text>
<text class="n" y="448"><tspan x="53.8">19</tspan><tspan x="78.5">19</tspan><tspan x="103.2">19</tspan><tspan x="127.8">19</tspan><tspan x="152.5">19</tspan><tspan x="177.2">19</tspan><tspan x="201.8">18</tspan><tspan x="226.5">16</tspan><tspan x="251.2">12</tspan><tspan x="325.2">19</tspan><tspan x="349.8">20</tspan><tspan x="374.5">19</tspan><tspan x="399.2">17</tspan><tspan x="423.8">17</tspan><tspan x="448.5">15</tspan><tspan x="473.2">14</tspan><tspan x="497.8">16</tspan><tspan x="522.5">18</tspan><tspan x="547.2">20</tspan><tspan x="571.8">17</tspan><tspan x="596.5">19</tspan><tspan x="621.2">18</tspan><tspan x="645.8">14</tspan><tspan x="670.5">7</tspan><tspan x="744.5">14</tspan><tspan x="769.2">19</tspan><tspan x="793.8">18</tspan><tspan x="818.5">17</tspan><tspan x="843.2">16</tspan><tspan x="867.8">13</tspan><tspan x="892.5">9</tspan><tspan x="976">17</tspan></text>
<text class="n" y="476"><tspan x="53.8">15</tspan><tspan x="78.5">15</tspan><tspan x="103.2">14</tspan><tspan x="127.8">12</tspan><tspan x="152.5">11</tspan><tspan x="177.2">11</tspan><tspan x="201.8">11</tspan><tspan x="226.5">10</tspan><tspan x="251.2">12</tspan><tspan x="275.8">10</tspan><tspan x="300.5">10</tspan><tspan x="325.2">10</tspan><tspan x="349.8">14</tspan><tspan x="374.5">14</tspan><tspan x="399.2">13</tspan><tspan x="423.8">14</tspan><tspan x="448.5">12</tspan><tspan x="473.2">12</tspan><tspan x="497.8">11</tspan><tspan x="522.5">12</tspan><tspan x="547.2">12</tspan><tspan x="571.8">11</tspan><tspan x="596.5">8</tspan><tspan x="621.2">15</tspan><tspan x="645.8">18</tspan><tspan x="670.5">10</tspan><tspan x="719.8">11</tspan><tspan x="744.5">16</tspan><tspan x="769.2">14</tspan><tspan x="793.8">12</tspan><tspan x="818.5">12</tspan><tspan x="843.2">12</tspan><tspan x="867.8">10</tspan><tspan x="892.5">9</tspan><tspan x="917.2">10</tspan><tspan x="976">12</tspan></text>
<text class="n" y="505"><tspan x="53.8">5</tspan><tspan x="78.5">8</tspan><tspan x="103.2">13</tspan><tspan x="127.8">6</tspan><tspan x="152.5">10</tspan><tspan x="177.2">6</tspan><tspan x="201.8">6</tspan><tspan x="226.5">5</tspan><tspan x="251.2">7</tspan><tspan x="275.8">10</tspan><tspan x="300.5">6</tspan><tspan x="325.2">10</tspan><tspan x="349.8">8</tspan><tspan x="374.5">9</tspan><tspan x="399.2">8</tspan><tspan x="423.8">7</tspan><tspan x="448.5">7</tspan><tspan x="473.2">6</tspan><tspan x="497.8">8</tspan><tspan x="522.5">7</tspan><tspan x="547.2">8</tspan><tspan x="571.8">10</tspan><tspan x="596.5">14</tspan><tspan x="621.2">11</tspan><tspan x="645.8">12</tspan><tspan x="670.5">9</tspan><tspan x="695.2">9</tspan><tspan x="719.8">10</tspan><tspan x="744.5">12</tspan><tspan x="769.2">9</tspan><tspan x="793.8">11</tspan><tspan x="818.5">13</tspan><tspan x="843.2">12</tspan><tspan x="867.8">9</tspan><tspan x="892.5">6</tspan><tspan x="917.2">9</tspan><tspan x="976">9</tspan></text>
<text class="n" y="534"><tspan x="50">3</tspan><tspan x="89">8</tspan><tspan x="138">8</tspan><tspan x="187">5</tspan><tspan x="237">7</tspan><tspan x="335">8</tspan><tspan x="386">8</tspan><tspan x="485">7</tspan><tspan x="534">3</tspan><tspan x="583">6</tspan><tspan x="633">9</tspan><tspan x="683">9</tspan><tspan x="732">8</tspan><tspan x="781">8</tspan><tspan x="830">6</tspan><tspan x="878">6</tspan><tspan x="923">3</tspan><tspan x="976">7</tspan></text>
<text class="n" y="562"><tspan x="50">4</tspan><tspan x="89">4</tspan><tspan x="138">4</tspan><tspan x="188">2</tspan><tspan x="238">4</tspan><tspan x="287">4</tspan><tspan x="335">3</tspan><tspan x="386">3</tspan><tspan x="632">3</tspan><tspan x="683">1</tspan><tspan x="732">6</tspan><tspan x="781">4</tspan><tspan x="830">2</tspan><tspan x="878">2</tspan><tspan x="923">4</tspan><tspan x="976">3</tspan></text>
<text class="n" y="591"><tspan x="510">4</tspan><tspan x="976">4</tspan></text>
</svg>
</body></html>
